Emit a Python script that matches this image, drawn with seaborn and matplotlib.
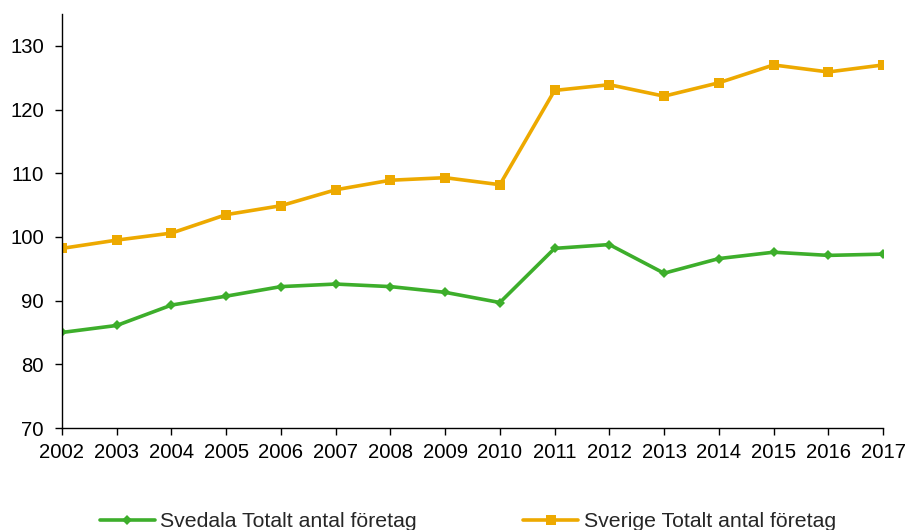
import matplotlib
matplotlib.use("Agg")
import matplotlib.pyplot as plt
import seaborn as sns
import pandas as pd

years = list(range(2002, 2018))
svedala = [85.0, 86.1, 89.3, 90.7, 92.2, 92.6, 92.2, 91.3, 89.7, 98.2, 98.8, 94.3, 96.6, 97.6, 97.1, 97.3]
sverige = [98.2, 99.5, 100.6, 103.5, 104.9, 107.4, 108.9, 109.3, 108.2, 123.0, 123.9, 122.1, 124.2, 127.0, 125.9, 127.0]
series_names = ["Svedala Totalt antal företag", "Sverige Totalt antal företag"]
y_ticks = [70, 80, 90, 100, 110, 120, 130]

df = pd.DataFrame({
    "year": years * 2,
    "value": svedala + sverige,
    "series": [series_names[0]] * len(years) + [series_names[1]] * len(years),
})

sns.set_style("white")
plt.rcParams["font.family"] = ["Liberation Sans", "DejaVu Sans"]

fig = plt.figure(figsize=(9.08, 5.30), dpi=100)
ax = fig.add_axes([62 / 908, 1 - 428 / 530, (883 - 62) / 908, (428 - 14) / 530])

palette = {series_names[0]: "#3DAE2B", series_names[1]: "#EDA900"}
markers = {series_names[0]: "D", series_names[1]: "s"}
sizes_m = {series_names[0]: 5.5, series_names[1]: 7.5}

for name in series_names:
    sub = df[df["series"] == name]
    sns.lineplot(data=sub, x="year", y="value", ax=ax, color=palette[name],
                 marker=markers[name], markersize=sizes_m[name], markeredgewidth=0,
                 linewidth=2.6, label=name, legend=False)

ax.set_xlim(2002, 2017)
ax.set_ylim(70, 135)
ax.set_xticks(years)
ax.set_xticklabels([str(y) for y in years])
ax.set_yticks(y_ticks)
ax.set_xlabel("")
ax.set_ylabel("")
for s in ["top", "right"]:
    ax.spines[s].set_visible(False)
for s in ["left", "bottom"]:
    ax.spines[s].set_color("black")
    ax.spines[s].set_linewidth(1.0)
ax.tick_params(axis="both", which="major", direction="out", length=5, width=1,
               color="black", labelsize=14.6, labelcolor="black", bottom=True, left=True)
ax.tick_params(axis="x", pad=6)
ax.tick_params(axis="y", pad=8)
ax.grid(False)

handles, labels = ax.get_legend_handles_labels()
fig.legend(handles, labels, loc="center", bbox_to_anchor=(0.515, 0.016), ncol=2,
           frameon=False, fontsize=15.3, handlelength=2.6, columnspacing=5.0,
           handletextpad=0.25)

fig.savefig("out.png", dpi=100)
